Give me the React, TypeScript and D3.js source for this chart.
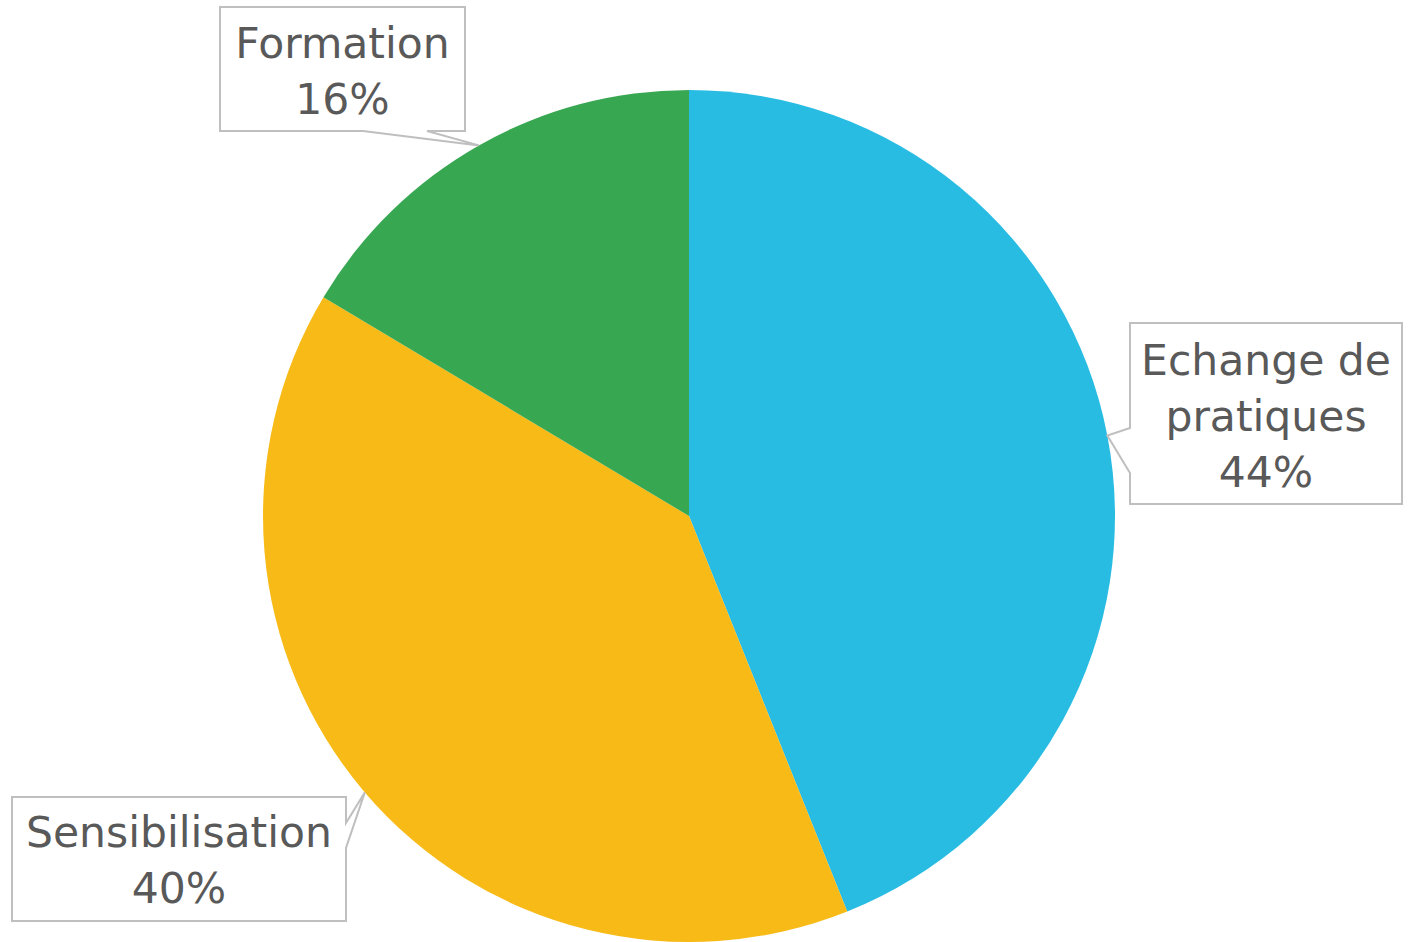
import React from 'react';
import * as d3 from 'd3';

// data (slice angles), labels show rounded percentages
const categories = ['Echange de pratiques', 'Sensibilisation', 'Formation'];
const labelLines = [['Echange de', 'pratiques'], ['Sensibilisation'], ['Formation']];
const values = [43.9, 39.6, 16.4];
const colors = ['#29BCE3', '#F7BA16', '#38A751'];

const W = 1409, H = 942;
const cx = 689, cy = 516, R = 426;

// callout boxes: x0,y0,x1,y1 + which side the pointer leaves from and its base
const boxes = [
  { x0: 1130, y0: 323, x1: 1402, y1: 504, side: 'left', b0: 428, b1: 473, top: 375 },
  { x0: 12, y0: 797, x1: 346, y1: 921, side: 'right', b0: 823, b1: 848, top: 847 },
  { x0: 220, y0: 7, x1: 465, y1: 131, side: 'bottom', b0: 363, b1: 427, top: 58 },
];

const calloutPath = (b, tip) => {
  const { x0, y0, x1, y1, side, b0, b1 } = b;
  const p = d3.path();
  p.moveTo(x0, y0);
  p.lineTo(x1, y0);
  if (side === 'right') {
    p.lineTo(x1, b0); p.lineTo(tip[0], tip[1]); p.lineTo(x1, b1);
  }
  p.lineTo(x1, y1);
  if (side === 'bottom') {
    p.lineTo(b1, y1); p.lineTo(tip[0], tip[1]); p.lineTo(b0, y1);
  }
  p.lineTo(x0, y1);
  if (side === 'left') {
    p.lineTo(x0, b1); p.lineTo(tip[0], tip[1]); p.lineTo(x0, b0);
  }
  p.closePath();
  return p.toString();
};

const App = () => {
  const pie = d3.pie<number>().sort(null).value(d => d);
  const arcs = pie(values);
  const arc = d3.arc<d3.PieArcDatum<number>>().innerRadius(0).outerRadius(R);
  const edge = d3.arc<d3.PieArcDatum<number>>().innerRadius(R).outerRadius(R);
  const total = d3.sum(values);

  return (
    <svg width={W} height={H} style={{ position: 'absolute', left: 0, top: 0 }}>
      <rect width={W} height={H} fill="#fff" />
      <g transform={`translate(${cx},${cy})`}>
        {arcs.map((a, i) => (
          <path key={categories[i]} d={arc(a)} fill={colors[i]} />
        ))}
      </g>
      {arcs.map((a, i) => {
        const c = edge.centroid(a);
        const tip = [cx + c[0], cy + c[1]];
        const b = boxes[i];
        const mx = (b.x0 + b.x1) / 2;
        const lines = [...labelLines[i], Math.round((values[i] / total) * 100) + '%'];
        return (
          <g key={'lab' + i}>
            <path d={calloutPath(b, tip)} fill="#fff" stroke="#BFBFBF" strokeWidth={2} />
            {lines.map((t, j) => (
              <text key={j} x={mx} y={b.top + j * 56} textAnchor="middle"
                fontFamily="DejaVu Sans" fontSize={42.5} fill="#595959">{t}</text>
            ))}
          </g>
        );
      })}
    </svg>
  );
};

export default App;
